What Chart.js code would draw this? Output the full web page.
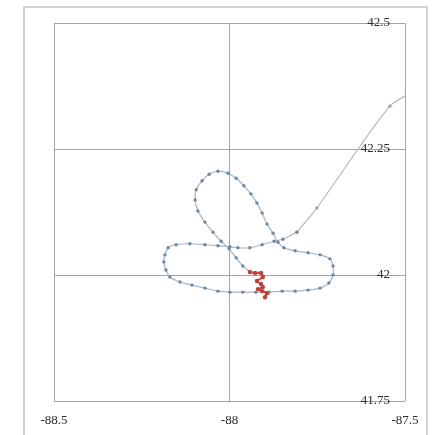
<!DOCTYPE html>
<html>
<head>
<meta charset="utf-8">
<script src="https://cdn.jsdelivr.net/npm/chart.js@4/dist/chart.umd.min.js"></script>
<style>
  html, body { margin: 0; padding: 0; background: #ffffff; }
  #wrap { width: 438px; height: 435px; }
</style>
</head>
<body>
<div id="wrap"><canvas id="track" width="438" height="435"></canvas></div>
<script>
// Inbound leg from the north-east
const approachLon = [-87.457, -87.543, -87.751, -87.808];
const approachLat = [42.371, 42.335, 42.133, 42.085];

// Holding loops before the final turn in
const patternLon = [
  -87.808, -87.848, -87.873, -87.907, -87.942, -87.976, -87.999, -88.033, -88.070, -88.113,
  -88.152, -88.175, -88.184, -88.187, -88.181, -88.170, -88.141, -88.107, -88.070, -88.033,
  -87.999, -87.962, -87.925, -87.888, -87.850, -87.813, -87.776, -87.742, -87.717, -87.705,
  -87.705, -87.714, -87.742, -87.776, -87.813, -87.845, -87.862, -87.876, -87.893, -87.907,
  -87.922, -87.939, -87.959, -87.981, -88.004, -88.033, -88.058, -88.078, -88.095, -88.098,
  -88.090, -88.070, -88.047, -88.024, -88.001, -87.981, -87.962, -87.942
];
const patternLat = [
  42.085, 42.071, 42.067, 42.060, 42.054, 42.054, 42.056, 42.058, 42.060, 42.062,
  42.060, 42.054, 42.040, 42.026, 42.010, 41.996, 41.986, 41.980, 41.974, 41.968,
  41.966, 41.966, 41.966, 41.966, 41.968, 41.968, 41.970, 41.974, 41.984, 42.000,
  42.018, 42.032, 42.040, 42.044, 42.048, 42.054, 42.065, 42.083, 42.101, 42.123,
  42.143, 42.161, 42.177, 42.192, 42.202, 42.206, 42.200, 42.187, 42.169, 42.149,
  42.127, 42.105, 42.085, 42.067, 42.052, 42.034, 42.018, 42.006
];

// Ground track after touchdown
const taxiLon = [-87.942, -87.927, -87.910, -87.905, -87.922, -87.910, -87.905, -87.919, -87.907, -87.893, -87.899];
const taxiLat = [42.006, 42.004, 42.004, 41.996, 41.988, 41.982, 41.976, 41.972, 41.968, 41.964, 41.956];

// Axis ticks
const xTickValues = [-88.5, -88, -87.5];
const xTickLabels = ['-88.5', '-88', '-87.5'];
const yTickValues = [41.75, 42, 42.25, 42.5];
const yTickLabels = ['41.75', '42', '42.25', '42.5'];

const toPoints = (lons, lats) => lons.map((x, i) => ({ x: x, y: lats[i] }));

// Light frame around the whole figure
const outerFrame = {
  id: 'outerFrame',
  beforeDraw(chart) {
    const ctx = chart.ctx;
    ctx.save();
    ctx.fillStyle = '#ffffff';
    ctx.fillRect(0, 0, chart.width, chart.height);
    ctx.strokeStyle = '#d2d2d2';
    ctx.lineWidth = 2;
    ctx.strokeRect(24, 7, 403, 440);
    ctx.restore();
  }
};

const tickFont = { family: '"Liberation Serif", "DejaVu Serif", serif', size: 13 };

new Chart(document.getElementById('track'), {
  type: 'line',
  data: {
    datasets: [
      {
        data: toPoints(taxiLon, taxiLat),
        borderColor: '#c4504a',
        borderWidth: 2.2,
        pointRadius: 2.2,
        pointBackgroundColor: '#c0403a',
        pointBorderWidth: 0,
        tension: 0.2
      },
      {
        data: toPoints(patternLon, patternLat),
        borderColor: '#aab4c0',
        borderWidth: 1.2,
        pointRadius: 1.7,
        pointBackgroundColor: '#6a88a8',
        pointBorderWidth: 0,
        tension: 0.25
      },
      {
        data: toPoints(approachLon, approachLat),
        borderColor: '#b8b8b8',
        borderWidth: 1.2,
        pointRadius: 1.6,
        pointBackgroundColor: '#9aa0a8',
        pointBorderWidth: 0,
        tension: 0.25
      }
    ]
  },
  options: {
    responsive: false,
    animation: false,
    layout: { padding: { left: 54, top: 23, right: 33, bottom: 0 } },
    plugins: { legend: { display: false }, tooltip: { enabled: false } },
    scales: {
      x: {
        type: 'linear',
        position: 'bottom',
        min: -88.5,
        max: -87.5,
        afterBuildTicks(scale) { scale.ticks = xTickValues.map(v => ({ value: v })); },
        afterFit(scale) { scale.height = 34; },
        grid: { color: '#a4a4a4', lineWidth: 1, drawTicks: false },
        border: { display: false },
        ticks: {
          font: tickFont,
          color: '#2a2a2a',
          padding: 12,
          maxRotation: 0,
          autoSkip: false,
          callback: (v, i) => xTickLabels[i]
        }
      },
      y: {
        type: 'linear',
        position: 'right',
        min: 41.75,
        max: 42.5,
        afterBuildTicks(scale) { scale.ticks = yTickValues.map(v => ({ value: v })); },
        afterFit(scale) { scale.width = 0; },
        grid: { color: '#a4a4a4', lineWidth: 1, drawTicks: false },
        border: { display: false },
        ticks: {
          mirror: true,
          font: tickFont,
          color: '#2a2a2a',
          padding: -15,
          autoSkip: false,
          callback: (v, i) => yTickLabels[i]
        }
      }
    }
  },
  plugins: [outerFrame]
});
</script>
</body>
</html>
